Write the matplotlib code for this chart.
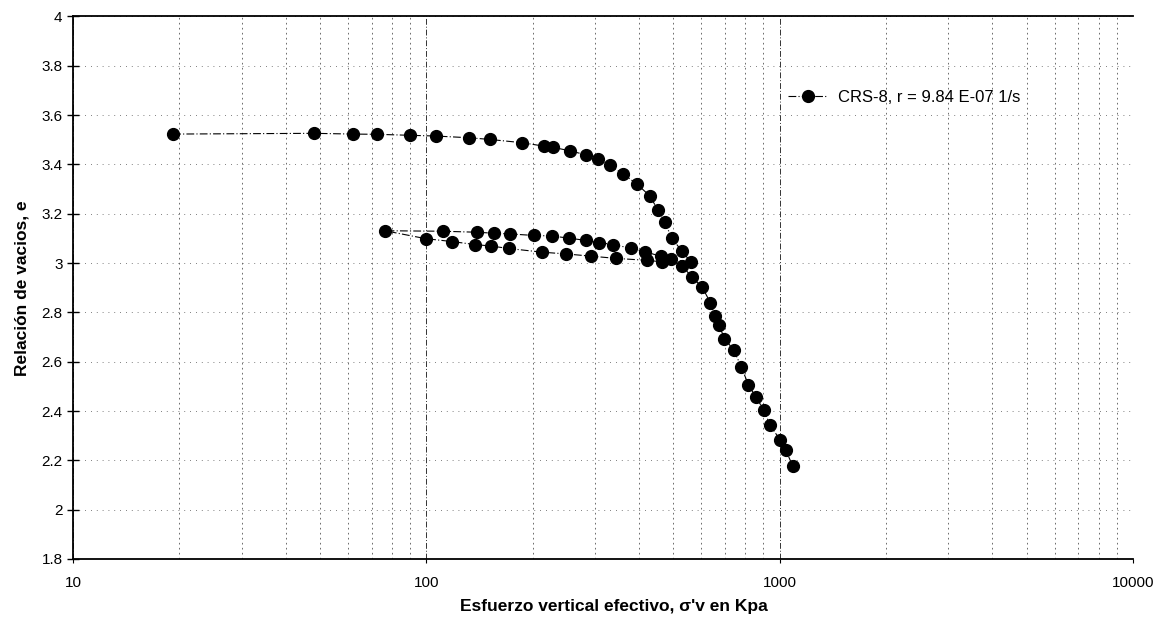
import matplotlib
matplotlib.use("Agg")
import matplotlib.pyplot as plt
from matplotlib.ticker import FixedLocator, FixedFormatter, LogLocator, NullFormatter

plt.rcParams['font.family'] = ['Liberation Sans', 'DejaVu Sans']

# Effective vertical stress (kPa) and void ratio, in test order
stress = [19.2, 48.1, 62.0, 72.5, 89.9, 106.5, 132.4, 151.8, 186.6, 215.4,
          228.8, 255.1, 282.6, 305.6, 331.1, 359.7, 394.9, 428.4, 452.8, 473.0,
          495.1, 529.4, 562.2,
          493.9, 465.6, 420.6, 343.6, 292.5, 248.1, 213.0, 171.2, 152.5, 137.2,
          118.5, 99.5, 76.4,
          111.3, 138.7, 155.2, 172.6, 201.1, 226.1, 253.0, 282.6, 307.2, 338.3,
          379.0, 416.6, 460.8, 528.3,
          564.4, 604.2, 636.5, 656.3, 674.0, 697.6, 741.7, 779.3, 815.6, 857.6,
          903.4, 937.6, 1002.6, 1040.6, 1088.9]
void_ratio = [3.523, 3.526, 3.523, 3.522, 3.518, 3.515, 3.508, 3.501, 3.488, 3.474,
              3.469, 3.455, 3.439, 3.421, 3.396, 3.362, 3.320, 3.273, 3.215, 3.165,
              3.102, 3.047, 3.003,
              3.015, 3.005, 3.011, 3.019, 3.028, 3.037, 3.044, 3.059, 3.069, 3.075,
              3.087, 3.099, 3.131,
              3.129, 3.125, 3.121, 3.118, 3.112, 3.110, 3.101, 3.092, 3.083, 3.075,
              3.060, 3.046, 3.027, 2.990,
              2.944, 2.901, 2.840, 2.785, 2.748, 2.694, 2.647, 2.578, 2.507, 2.455,
              2.403, 2.345, 2.283, 2.242, 2.177]
series_label = "CRS-8, r = 9.84 E-07 1/s"

x_ticks = [10, 100, 1000, 10000]
x_ticklabels = ["10", "100", "1000", "10000"]
y_ticks = [1.8, 2.0, 2.2, 2.4, 2.6, 2.8, 3.0, 3.2, 3.4, 3.6, 3.8, 4.0]
y_ticklabels = ["1.8", "2", "2.2", "2.4", "2.6", "2.8", "3", "3.2", "3.4", "3.6", "3.8", "4"]

fig = plt.figure(figsize=(11.68, 6.2), dpi=100)
ax = fig.add_axes([0.0625, 0.0984, 0.9075, 0.8751])

ax.set_xscale('log')
ax.set_xlim(10, 10000)
ax.set_ylim(1.8, 4.0)

ax.xaxis.set_major_locator(FixedLocator(x_ticks))
ax.xaxis.set_major_formatter(FixedFormatter(x_ticklabels))
ax.xaxis.set_minor_locator(LogLocator(base=10, subs=range(2, 10)))
ax.xaxis.set_minor_formatter(NullFormatter())
ax.yaxis.set_major_locator(FixedLocator(y_ticks))
ax.yaxis.set_major_formatter(FixedFormatter(y_ticklabels))

ax.grid(True, which='major', axis='x', color='#333333', linewidth=0.7,
        linestyle=(0, (6, 2, 1, 2)))
ax.grid(True, which='minor', axis='x', color='#555555', linewidth=0.6,
        linestyle=(0, (2, 4)))
ax.grid(True, which='major', axis='y', color='#555555', linewidth=0.6,
        linestyle=(0, (1, 6)))

ax.plot(stress, void_ratio, color='black', linewidth=0.8,
        linestyle=(0, (7, 2, 1, 2)), marker='o', markersize=8.5,
        markerfacecolor='black', markeredgecolor='black', label=series_label,
        zorder=3)

for side in ['left', 'bottom', 'top']:
    ax.spines[side].set_linewidth(1.3)
    ax.spines[side].set_color('black')
ax.spines['right'].set_visible(False)

ax.tick_params(axis='y', which='major', direction='inout', length=9, width=1,
               labelsize=11, pad=3)
ax.tick_params(axis='x', which='major', direction='out', length=3, width=0.8,
               labelsize=11, pad=9)
ax.tick_params(axis='x', which='minor', length=0)

ax.set_xlabel("Esfuerzo vertical efectivo, σ'v en Kpa", fontsize=12.5,
              fontweight='bold')
ax.xaxis.set_label_coords(0.51, -0.074)
ax.set_ylabel("Relación de vacios, e", fontsize=12.5, fontweight='bold')
ax.yaxis.set_label_coords(-0.041, 0.5)

leg = ax.legend(loc='center left', bbox_to_anchor=(0.668, 0.8515), frameon=False,
                fontsize=12, handlelength=2.4, handletextpad=0.6,
                borderaxespad=0)

fig.savefig("out.png", dpi=100)
